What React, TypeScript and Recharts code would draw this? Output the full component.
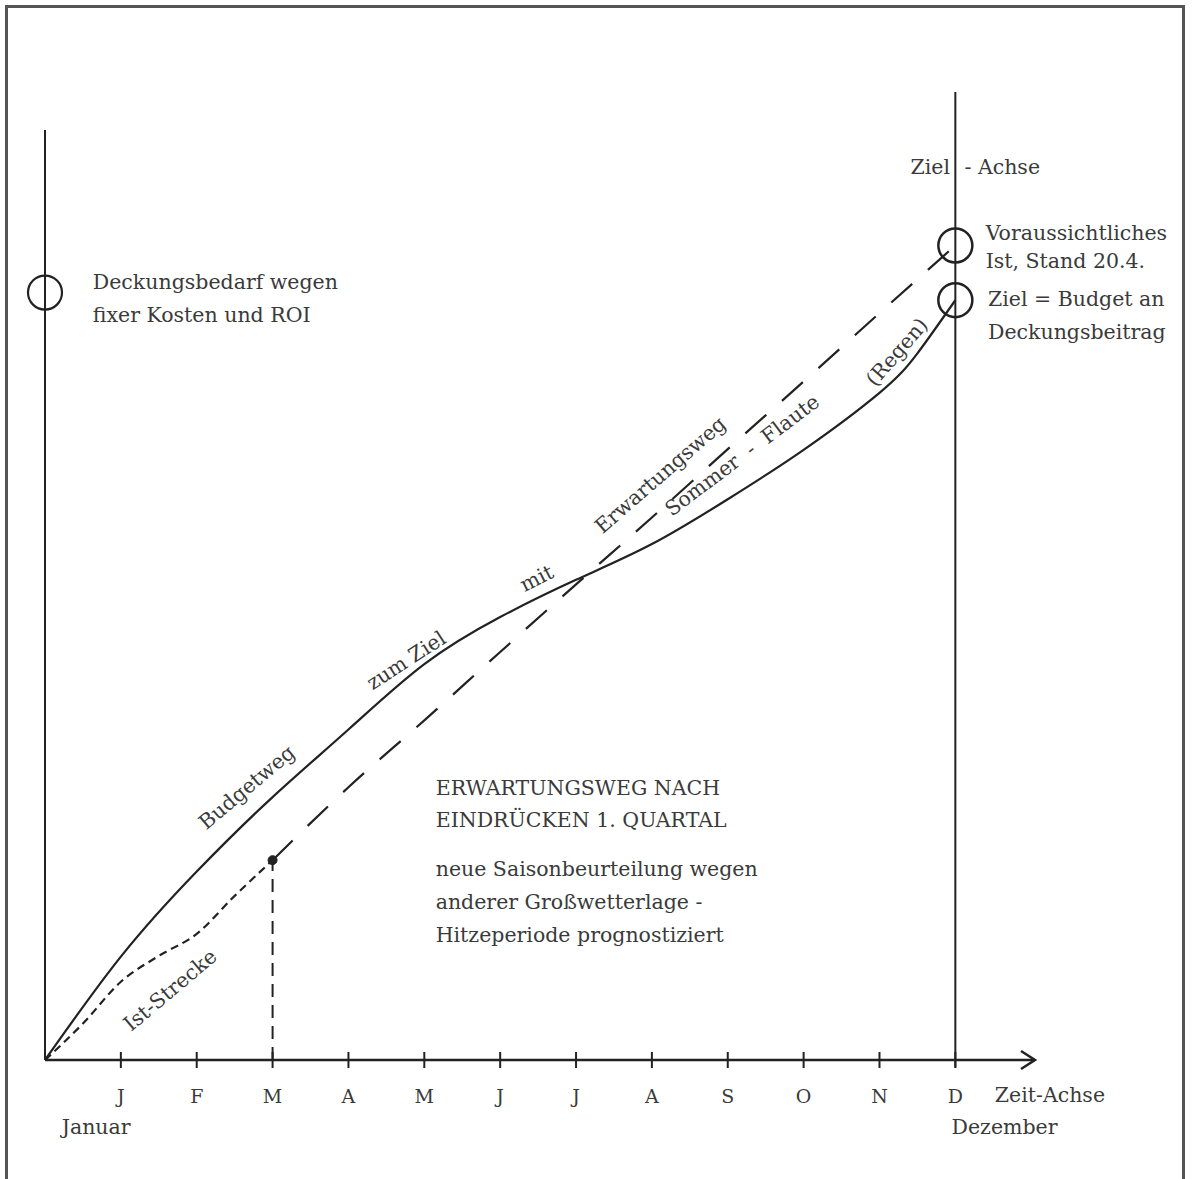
import React from 'react';
import { LineChart, Line, XAxis, YAxis, ReferenceLine, ReferenceDot } from 'recharts';

// month index (0 = start of January, 12 = December) and value in % of the target
const monthLetters = ['J', 'F', 'M', 'A', 'M', 'J', 'J', 'A', 'S', 'O', 'N', 'D'];
const monthTicks = [1, 2, 3, 4, 5, 6, 7, 8, 9, 10, 11, 12];

const budgetX = [0, 1, 2, 3, 4, 5, 6, 7, 8, 9, 10, 11, 11.5, 12];
const budgetY = [0, 13.6, 24.8, 34.6, 43.5, 52.1, 58.3, 63.2, 67.9, 73.8, 80.3, 87.8, 93, 100];

const expectX = [3, 4, 5, 6, 7, 8, 9, 10, 11, 12];
const expectY = [26.3, 35.9, 44.7, 53.7, 62.6, 71.4, 80.4, 89.3, 98.3, 107.2];

const istX = [0, 0.5, 1, 1.5, 2, 2.5, 3];
const istY = [0, 4.8, 10.3, 13.7, 16.6, 21.6, 26.3];

const deckungsbedarf = 101;
const zielBudget = 100;
const voraussichtlich = 107.2;
const istStand = { x: 3, y: 26.3 };

const budgetData = budgetX.map((x, i) => ({ x, v: budgetY[i] }));
const expectData = expectX.map((x, i) => ({ x, v: expectY[i] }));
const istData = istX.map((x, i) => ({ x, v: istY[i] }));

const INK = '#222';
const TEXT = '#3a3a3a';
const FONT = '"DejaVu Serif", serif';

type Note = { text: string; x: number; y: number; angle?: number; anchor?: 'start' | 'middle' | 'end' };

const notes: Note[] = [
  { text: 'Deckungsbedarf wegen', x: 0.63, y: 102.4, anchor: 'start' },
  { text: 'fixer Kosten und ROI', x: 0.63, y: 98.0, anchor: 'start' },
  { text: 'Ziel', x: 11.93, y: 117.5, anchor: 'end' },
  { text: '- Achse', x: 12.12, y: 117.5, anchor: 'start' },
  { text: 'Voraussichtliches', x: 12.4, y: 108.8, anchor: 'start' },
  { text: 'Ist, Stand 20.4.', x: 12.4, y: 105.1, anchor: 'start' },
  { text: 'Ziel = Budget an', x: 12.43, y: 100.1, anchor: 'start' },
  { text: 'Deckungsbeitrag', x: 12.43, y: 95.8, anchor: 'start' },
  { text: 'ERWARTUNGSWEG NACH', x: 5.15, y: 35.8, anchor: 'start' },
  { text: 'EINDRÜCKEN 1. QUARTAL', x: 5.15, y: 31.6, anchor: 'start' },
  { text: 'neue Saisonbeurteilung wegen', x: 5.15, y: 25.1, anchor: 'start' },
  { text: 'anderer Großwetterlage -', x: 5.15, y: 20.8, anchor: 'start' },
  { text: 'Hitzeperiode prognostiziert', x: 5.15, y: 16.4, anchor: 'start' },
  { text: 'Zeit-Achse', x: 12.52, y: -4.6, anchor: 'start' },
  { text: 'Januar', x: 0.22, y: -8.8, anchor: 'start' },
  { text: 'Dezember', x: 11.95, y: -8.8, anchor: 'start' },
  { text: 'Budgetweg', x: 2.66, y: 35.9, angle: -40 },
  { text: 'zum Ziel', x: 4.76, y: 52.6, angle: -33 },
  { text: 'mit', x: 6.48, y: 63.4, angle: -27 },
  { text: 'Erwartungsweg', x: 8.11, y: 77, angle: -41 },
  { text: 'Sommer  -  Flaute', x: 9.19, y: 79.6, angle: -37 },
  { text: '(Regen)', x: 11.23, y: 93.2, angle: -49 },
  { text: 'Ist-Strecke', x: 1.65, y: 9.2, angle: -40 },
];

const MonthTick = (props: any) => {
  const { x, y, payload } = props;
  return (
    <g>
      <line x1={x} x2={x} y1={y - 8} y2={y + 8} stroke={INK} strokeWidth={2} />
      <text x={x} y={y + 36} textAnchor="middle" dominantBaseline="central" fontFamily={FONT} fontSize={19} fill={TEXT}>
        {monthLetters[payload.value - 1]}
      </text>
    </g>
  );
};

const noteShape = (n: Note) => (props: any) => {
  const { cx, cy } = props;
  return (
    <text
      x={cx}
      y={cy}
      textAnchor={n.anchor || 'middle'}
      dominantBaseline="central"
      transform={n.angle ? `rotate(${n.angle} ${cx} ${cy})` : undefined}
      fontFamily={FONT}
      fontSize={20.5}
      fill={TEXT}
      style={{ whiteSpace: 'pre' }}
    >
      {n.text}
    </text>
  );
};

const arrowHead = (props: any) => {
  const { cx, cy } = props;
  return <path d={`M${cx - 14},${cy - 9} L${cx},${cy} L${cx - 14},${cy + 9}`} fill="none" stroke={INK} strokeWidth={2.5} />;
};

export default function App() {
  return (
    <div style={{ position: 'absolute', left: 0, top: 0, width: 1193, height: 1179, background: '#fff', overflow: 'hidden' }}>
      <div style={{ position: 'absolute', left: 0, top: 0 }}>
        <LineChart width={1193} height={1179} margin={{ top: 92, right: 158, bottom: 59, left: 45 }}>
          <XAxis
            type="number"
            dataKey="x"
            domain={[0, 13.05]}
            ticks={monthTicks}
            interval={0}
            height={60}
            tickSize={0}
            tickMargin={0}
            tickLine={false}
            tick={<MonthTick />}
            axisLine={{ stroke: INK, strokeWidth: 2.5 }}
            allowDataOverflow
          />
          <YAxis type="number" dataKey="v" domain={[0, 127.4]} hide allowDataOverflow />

          <ReferenceLine segment={[{ x: 0, y: 0 }, { x: 0, y: 122.4 }]} stroke={INK} strokeWidth={2} ifOverflow="visible" />
          <ReferenceLine segment={[{ x: 12, y: -1 }, { x: 12, y: 127.4 }]} stroke={INK} strokeWidth={2} ifOverflow="visible" />
          <ReferenceLine
            segment={[{ x: istStand.x, y: 0 }, { x: istStand.x, y: istStand.y }]}
            stroke={INK}
            strokeWidth={2}
            strokeDasharray="13 8"
            ifOverflow="visible"
          />

          <Line data={budgetData} dataKey="v" type="natural" stroke={INK} strokeWidth={2.2} dot={false} isAnimationActive={false} />
          <Line data={expectData} dataKey="v" type="monotone" stroke={INK} strokeWidth={2.2} strokeDasharray="28 21" dot={false} isAnimationActive={false} />
          <Line data={istData} dataKey="v" type="monotone" stroke={INK} strokeWidth={2.2} strokeDasharray="8 5" dot={false} isAnimationActive={false} />

          <ReferenceDot x={0} y={deckungsbedarf} r={17} fill="none" stroke={INK} strokeWidth={2.2} ifOverflow="visible" />
          <ReferenceDot x={12} y={voraussichtlich} r={17} fill="none" stroke={INK} strokeWidth={2.5} ifOverflow="visible" />
          <ReferenceDot x={12} y={zielBudget} r={17} fill="none" stroke={INK} strokeWidth={2.5} ifOverflow="visible" />
          <ReferenceDot x={istStand.x} y={istStand.y} r={4.5} fill={INK} stroke={INK} ifOverflow="visible" />
          <ReferenceDot x={13.05} y={0} r={1} shape={arrowHead} ifOverflow="visible" />

          {notes.map((n, i) => (
            <ReferenceDot key={i} x={n.x} y={n.y} r={1} shape={noteShape(n)} ifOverflow="visible" />
          ))}
        </LineChart>
      </div>
      <div
        style={{
          position: 'absolute',
          left: 5,
          top: 5,
          width: 1180,
          height: 1200,
          boxSizing: 'border-box',
          borderLeft: '3px solid #555',
          borderRight: '3px solid #555',
          borderTop: '3px solid #555',
          pointerEvents: 'none',
          zIndex: 2,
        }}
      />
    </div>
  );
}
